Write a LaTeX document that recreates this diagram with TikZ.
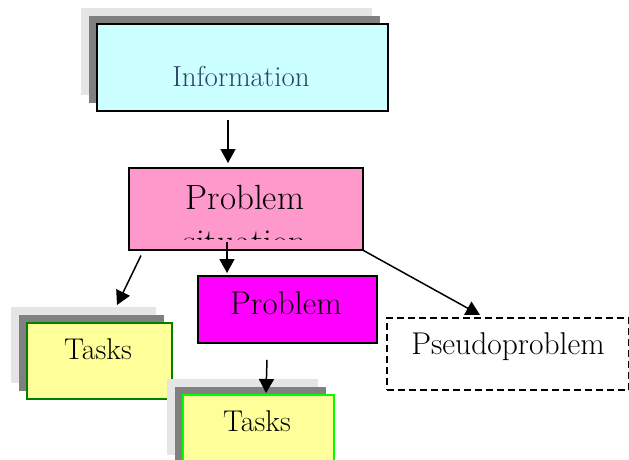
\documentclass[tikz,border=0pt]{standalone}
\usepackage{fontspec}
\usetikzlibrary{arrows.meta,calc}

\definecolor{infofill}{HTML}{CCFFFF}
\definecolor{infotext}{HTML}{2E4466}
\definecolor{sitfill}{HTML}{FF99CC}
\definecolor{probfill}{HTML}{FF00FF}
\definecolor{taskfill}{HTML}{FFFF99}
\definecolor{taskedge}{HTML}{008000}
\definecolor{taskedgelight}{HTML}{00FF00}
\definecolor{shadowdark}{HTML}{808080}
\definecolor{shadowlight}{HTML}{E5E5E5}

\tikzset{
  box/.style={rectangle, draw, inner sep=0pt, anchor=north west},
  stacked/.style={
    preaction={draw=none, fill=shadowlight, transform canvas={shift={(-16pt,16pt)}}},
    preaction={draw=none, fill=shadowdark, transform canvas={shift={(-8pt,8pt)}}}},
  label/.style={anchor=base, inner sep=0pt},
  arr/.style={-{Triangle[length=14pt,width=15pt]}, line width=1.5pt},
}

\begin{document}
\begin{tikzpicture}[x=1pt, y=-1pt]
  \clip (0,0) rectangle (629,459);

  % Information
  \node[box, stacked, fill=infofill, line width=1.8pt,
        minimum width=291pt, minimum height=87pt] (info) at (96,23) {};
  \node[label, text=infotext, font=\fontsize{29}{34}\selectfont] (infot) at (241,86) {Information};

  % Problem situation (second line cut by the box)
  \node[box, fill=sitfill, line width=1.5pt,
        minimum width=234pt, minimum height=82pt] (sit) at (128,167) {};
  \begin{scope}
    \clip (129,168) rectangle (361,239);
    \node[label, font=\fontsize{35}{42}\selectfont] (sita) at (245,209) {Problem};
    \node[label, font=\fontsize{35}{42}\selectfont] (sitb) at (245,253) {situation};
  \end{scope}

  % Problem
  \node[box, fill=probfill, line width=1.8pt,
        minimum width=179pt, minimum height=67pt] (prob) at (197,275) {};
  \node[label, font=\fontsize{33}{40}\selectfont] (probt) at (286,314) {Problem};

  % Tasks, left
  \node[box, stacked, fill=taskfill, draw=taskedge, line width=1.8pt,
        minimum width=145pt, minimum height=76pt] (tasksL) at (26,322) {};
  \node[label, font=\fontsize{30}{36}\selectfont] (tasksLt) at (98,359) {Tasks};

  % Tasks, bottom
  \node[box, stacked, fill=taskfill, draw=taskedgelight, line width=1.8pt,
        minimum width=151pt, minimum height=76pt] (tasksB) at (182,394) {};
  \node[label, font=\fontsize{30}{36}\selectfont] (tasksBt) at (257,431) {Tasks};

  % Pseudoproblem
  \node[box, dashed, dash pattern=on 7pt off 4pt, line width=1.5pt,
        minimum width=242pt, minimum height=72pt] (pseudo) at (386,317) {};
  \node[label, font=\fontsize{31.5}{38}\selectfont] (pseudot) at (508,354) {Pseudoproblem};

  % Connectors
  \draw[arr] ($(info.south west)+(132,8)$) -- ($(sit.north west)+(100,-4)$);
  \draw[arr] ($(sit.south west)+(99,-9)$) -- ($(prob.north west)+(30,-2)$);
  \draw[arr] ($(sit.south west)+(13,5)$) -- ($(tasksL.north west)+(91,-17)$);
  \draw[arr] (sit.south east) -- ($(pseudo.north west)+(94,-2)$);
  \draw[arr] ($(prob.south west)+(70,16)$) -- ($(tasksB.north west)+(84,-1)$);
\end{tikzpicture}
\end{document}
